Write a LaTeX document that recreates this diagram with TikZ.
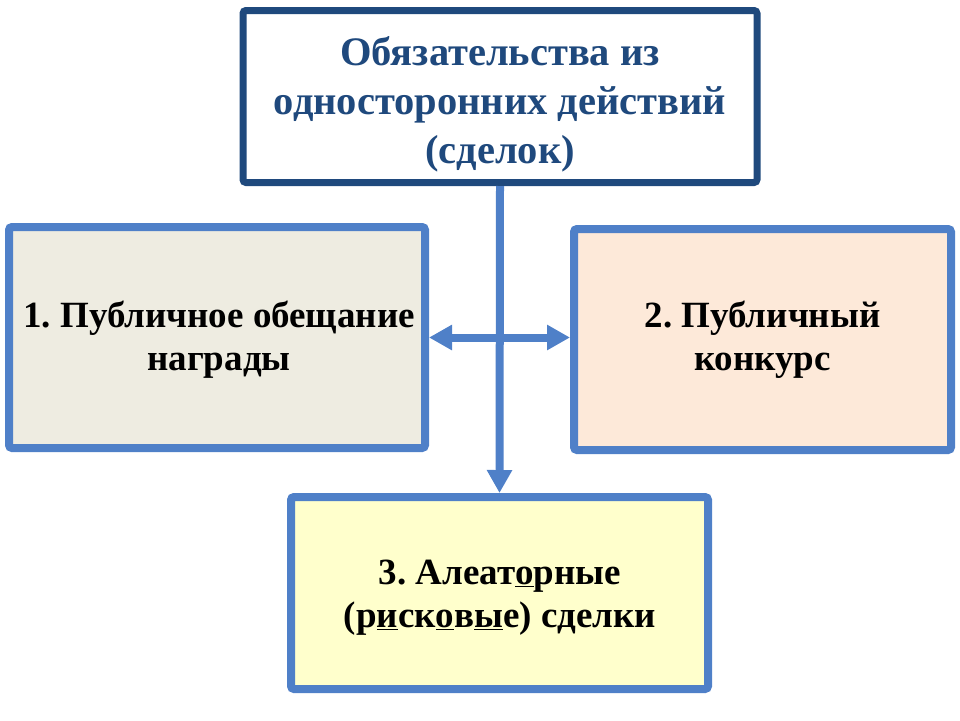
\documentclass[tikz,border=0pt]{standalone}
\usepackage{fontspec}
\setmainfont{Liberation Serif}
\usetikzlibrary{arrows.meta}
\definecolor{darkb}{HTML}{1F497D}
\definecolor{lineb}{HTML}{4F80C8}
\definecolor{fillL}{HTML}{EEECE1}
\definecolor{fillR}{HTML}{FDE9D9}
\definecolor{fillB}{HTML}{FFFFCC}
\tikzset{
  box/.style={draw=lineb, line width=8pt, rounded corners=3pt, inner sep=0pt},
  btext/.style={align=center, inner sep=0pt,
    font=\frenchspacing\fontsize{37}{43}\selectfont\bfseries},
  topbox/.style={draw=darkb, line width=7pt, fill=white, rounded corners=3pt, inner sep=0pt},
  ttext/.style={align=center, inner sep=0pt, text=darkb,
    font=\fontsize{40.5}{49}\selectfont\bfseries},
  conn/.style={draw=lineb, line width=8pt, -{Triangle[length=23pt,width=24pt]}},
  dconn/.style={draw=lineb, line width=8pt, {Triangle[length=23pt,width=24pt]}-{Triangle[length=23pt,width=24pt]}}
}
\begin{document}
\begin{tikzpicture}[x=1pt,y=-1pt]
\useasboundingbox (0,0) rectangle (960,720);
\node[topbox, minimum width=514pt, minimum height=172pt] (top) at (500,96.5) {};
\node[ttext] (toptext) at (500,104) {Обязательства из\\односторонних действий\\(сделок)};
\node[box, fill=fillL, minimum width=416pt, minimum height=221pt] (left) at (217,337.5) {};
\node[btext] (lefttext) at (219,340) {1. Публичное обещание\\награды};
\node[box, fill=fillR, minimum width=377pt, minimum height=221pt] (right) at (762.5,339.5) {};
\node[btext] (righttext) at (762.5,340) {2. Публичный\\конкурс};
\node[box, fill=fillB, minimum width=417pt, minimum height=192pt] (bottom) at (499.5,593) {};
\node[btext] (bottomtext) at (500,598)
  {3. Алеат\underline{о}рные\\(р\underline{и}ск\underline{о}в\underline{ы}е) сделки};
\draw[conn] (top.south) -- (bottom.north);
\draw[dconn] (left.east) -- (left.east -| right.west);
\end{tikzpicture}
\end{document}
